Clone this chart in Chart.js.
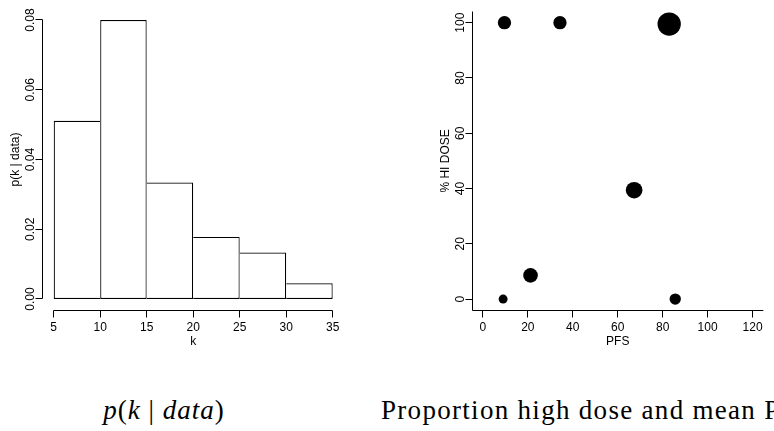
<!DOCTYPE html>
<html>
<head>
<meta charset="utf-8">
<script src="https://cdn.jsdelivr.net/npm/chart.js@4.4.1/dist/chart.umd.min.js"></script>
<style>
    html, body { margin: 0; padding: 0; background: #fff; }
    #page { position: relative; width: 774px; height: 431px; overflow: hidden; background: #fff; }
    canvas { position: absolute; top: 0; }
    #histCanvas { left: 0; }
    #scatterCanvas { left: 387px; }
    .caption {
        position: absolute; top: 397px;
        font-family: "Liberation Serif", "Times New Roman", serif;
        font-size: 27px; line-height: 27px; letter-spacing: 1px;
        white-space: nowrap; color: #000;
    }
    #capLeft { left: 64px; width: 200px; text-align: center; }
    #capRight { left: 381px; letter-spacing: 1.3px; }
    .m { font-style: italic; }
</style>
</head>
<body>
<div id="page">
    <canvas id="histCanvas" width="387" height="360"></canvas>
    <canvas id="scatterCanvas" width="388" height="360"></canvas>
    <div class="caption" id="capLeft"><span class="m">p</span>(<span class="m">k</span>&nbsp;|&nbsp;<span class="m">data</span>)</div>
    <div class="caption" id="capRight">Proportion high dose and mean PFS</div>
</div>
<script>
// ── Data ─────────────────────────────────────────────────────────────────────
const binEdges = [5, 10, 15, 20, 25, 30, 35];
const density  = [0.0511, 0.0800, 0.0334, 0.0178, 0.0133, 0.0045];
const histXTicks  = [5, 10, 15, 20, 25, 30, 35];
const histXLabels = ['5', '10', '15', '20', '25', '30', '35'];
const histYTicks  = [0, 0.02, 0.04, 0.06, 0.08];
const histYLabels = ['0.00', '0.02', '0.04', '0.06', '0.08'];

const pfs    = [9.6, 34.3, 82.9, 67.3, 21.2, 9.0, 85.6];
const hiDose = [100, 100, 99.5, 39.4, 8.6, 0, 0];
const cex    = [2.0, 2.0, 3.5, 2.5, 2.2, 1.35, 1.7];   // relative symbol size
const scatterXTicks  = [0, 20, 40, 60, 80, 100, 120];
const scatterXLabels = ['0', '20', '40', '60', '80', '100', '120'];
const scatterYTicks  = [0, 20, 40, 60, 80, 100];
const scatterYLabels = ['0', '20', '40', '60', '80', '100'];

// ── R-style axes (drawn from the chart's own scales) ─────────────────────────
function rAxis(spec) {
    return {
        id: 'rAxis',
        afterDatasetsDraw(chart) {
            const { ctx, chartArea: a } = chart;
            const px = v => chart.scales.x.getPixelForValue(v);
            const py = v => chart.scales.y.getPixelForValue(v);
            const snap = v => Math.round(v - 0.5) + 0.5;
            const axisY = snap(a.bottom);
            const axisX = snap(a.left);

            ctx.save();
            ctx.strokeStyle = '#000';
            ctx.fillStyle = '#000';
            ctx.lineWidth = 1;
            ctx.font = '12px "Liberation Sans", Arial, Helvetica, sans-serif';

            ctx.beginPath();
            if (spec.box) {
                // bty = "l"
                ctx.moveTo(axisX, snap(a.top));
                ctx.lineTo(axisX, axisY);
                ctx.lineTo(a.right, axisY);
            } else {
                // axis line only from first to last tick
                ctx.moveTo(snap(px(spec.xTicks[0])), axisY);
                ctx.lineTo(snap(px(spec.xTicks[spec.xTicks.length - 1])), axisY);
                ctx.moveTo(axisX, snap(py(spec.yTicks[0])));
                ctx.lineTo(axisX, snap(py(spec.yTicks[spec.yTicks.length - 1])));
            }
            spec.xTicks.forEach(v => {
                const x = snap(px(v));
                ctx.moveTo(x, axisY);
                ctx.lineTo(x, axisY + 7);
            });
            spec.yTicks.forEach(v => {
                const y = snap(py(v));
                ctx.moveTo(axisX, y);
                ctx.lineTo(axisX - 7, y);
            });
            ctx.stroke();

            ctx.textAlign = 'center';
            ctx.textBaseline = 'alphabetic';
            spec.xTicks.forEach((v, i) => ctx.fillText(spec.xLabels[i], px(v), axisY + 20));
            spec.yTicks.forEach((v, i) => {
                ctx.save();
                ctx.translate(axisX - 9, py(v));
                ctx.rotate(-Math.PI / 2);
                ctx.fillText(spec.yLabels[i], 0, 0);
                ctx.restore();
            });

            // titles
            ctx.fillText(spec.xTitle, (a.left + a.right) / 2, axisY + 34);
            ctx.save();
            ctx.translate(axisX - 24, (a.top + a.bottom) / 2);
            ctx.rotate(-Math.PI / 2);
            ctx.fillText(spec.yTitle, 0, 0);
            ctx.restore();

            ctx.restore();
        }
    };
}

// ── Histogram ────────────────────────────────────────────────────────────────
new Chart(document.getElementById('histCanvas'), {
    type: 'bar',
    data: {
        datasets: [{
            data: density.map((d, i) => ({ x: (binEdges[i] + binEdges[i + 1]) / 2, y: d })),
            backgroundColor: '#fff',
            borderColor: '#000',
            borderSkipped: false,
            // shared edges drawn once, by the taller bar
            borderWidth: (c) => {
                const i = c.dataIndex;
                return {
                    top: 1.2, bottom: 1.2,
                    left: (i === 0 || density[i] >= density[i - 1]) ? 1.2 : 0,
                    right: (i === density.length - 1 || density[i] > density[i + 1]) ? 1.2 : 0
                };
            },
            barPercentage: 1,
            categoryPercentage: 1,
            inflateAmount: 0
        }]
    },
    options: {
        responsive: false,
        animation: false,
        events: [],
        layout: { padding: { left: 42.54, right: 43.14, top: 8.84, bottom: 49.84 } },
        scales: {
            x: {
                type: 'linear', display: false, offset: false, min: 3.8, max: 36.2,
                afterBuildTicks: (s) => { s.ticks = binEdges.map(v => ({ value: v })); }
            },
            y: { type: 'linear', display: false, min: -0.0032, max: 0.0832 }
        },
        plugins: { legend: { display: false }, tooltip: { enabled: false } }
    },
    plugins: [rAxis({
        box: false,
        xTicks: histXTicks, xLabels: histXLabels,
        yTicks: histYTicks, yLabels: histYLabels,
        xTitle: 'k', yTitle: 'p(k | data)'
    })]
});

// ── Bubble scatter ───────────────────────────────────────────────────────────
new Chart(document.getElementById('scatterCanvas'), {
    type: 'scatter',
    data: {
        datasets: [{
            data: pfs.map((x, i) => ({ x: x, y: hiDose[i] })),
            pointRadius: (c) => cex[c.dataIndex] * 3.33,
            pointBackgroundColor: '#000',
            pointBorderWidth: 0,
            showLine: false,
            clip: false
        }]
    },
    options: {
        responsive: false,
        animation: false,
        events: [],
        layout: { padding: { left: 85.1, right: 0.5, top: 8.84, bottom: 49.84 } },
        scales: {
            x: { type: 'linear', display: false, min: -4.8, max: 124.8 },
            y: { type: 'linear', display: false, min: -4, max: 104 }
        },
        plugins: { legend: { display: false }, tooltip: { enabled: false } }
    },
    plugins: [rAxis({
        box: true,
        xTicks: scatterXTicks, xLabels: scatterXLabels,
        yTicks: scatterYTicks, yLabels: scatterYLabels,
        xTitle: 'PFS', yTitle: '% HI DOSE'
    })]
});
</script>
</body>
</html>
